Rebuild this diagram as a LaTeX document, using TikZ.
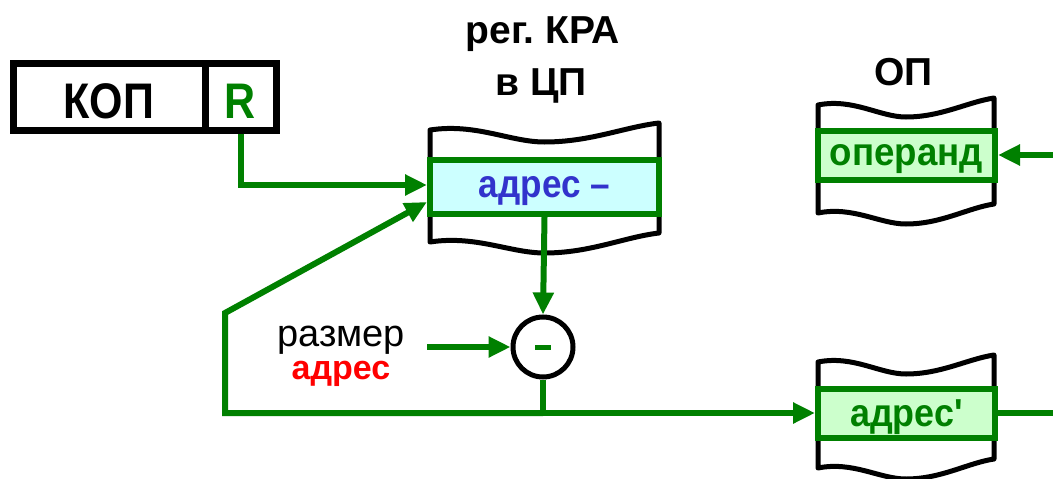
\documentclass[tikz,border=0pt]{standalone}
\usepackage{fontspec}
\setmainfont{Liberation Sans}
\usetikzlibrary{arrows.meta,positioning}
\definecolor{dkgreen}{RGB}{0,128,0}
\definecolor{cellcyan}{RGB}{204,255,255}
\definecolor{cellgreen}{RGB}{204,255,204}
\definecolor{txtblue}{RGB}{51,51,204}
\newcommand{\titlefont}{\fontsize{39pt}{39pt}\selectfont\bfseries}
\newcommand{\fieldfont}{\fontsize{50pt}{50pt}\selectfont\bfseries}
\newcommand{\cellfont}{\fontsize{39pt}{39pt}\selectfont\bfseries}
\tikzstyle{txt} = [inner sep=0pt, anchor=base]
\tikzstyle{field} = [rectangle, draw, line width=7pt, inner sep=0pt, minimum height=67pt, text height=43pt, text depth=0pt, font=\fieldfont]
\tikzstyle{cell} = [rectangle, draw=dkgreen, line width=6pt, inner sep=0pt, minimum width=177pt, minimum height=49pt, text depth=0pt, font=\cellfont]
\tikzstyle{wire} = [draw=dkgreen, line width=6pt]
\tikzstyle{feed} = [wire, -{Triangle[length=22pt,width=20pt]}]
% memory strip: x left, x right, y top, y bottom
\newcommand{\memstrip}[4]{%
  \draw[line width=5pt, fill=white, line join=round]
    (#1,#3) .. controls ({#1+0.2*(#2-#1)},{#3-7}) and ({#1+0.35*(#2-#1)},{#3+12}) .. ({#1+0.5*(#2-#1)},{#3+12})
    .. controls ({#1+0.7*(#2-#1)},{#3+12}) and ({#1+0.85*(#2-#1)},{#3-3}) .. (#2,{#3-7})
    -- (#2,{#4-9})
    .. controls ({#1+0.85*(#2-#1)},{#4-5}) and ({#1+0.7*(#2-#1)},{#4+11}) .. ({#1+0.5*(#2-#1)},{#4+11})
    .. controls ({#1+0.35*(#2-#1)},{#4+11}) and ({#1+0.2*(#2-#1)},{#4-7}) .. (#1,#4)
    -- cycle;}

\begin{document}
\begin{tikzpicture}[x=1pt, y=-1pt]
\useasboundingbox (0,0) rectangle (1053,479);

\node[txt, font=\titlefont] at (543,43) {рег.\ КРА};
\node[txt, font=\titlefont] at (541,95) {в ЦП};
\node[txt, font=\titlefont] at (903.5,85) {ОП};

\node[field, minimum width=192pt] (kop) at (109,96.5) {\scalebox{.86}[1]{КОП}};
\node[field, minimum width=71pt, text=dkgreen] (r) at (240.5,96.5) {\scalebox{.86}[1]{R}};

\memstrip{430}{659}{130}{242}
\node[cell, fill=cellcyan, text=txtblue, minimum width=229pt, minimum height=54pt] (reg) at (544.5,187) {\scalebox{.9}[1]{адрес –}};

\memstrip{818}{994}{105}{213}
\node[cell, fill=cellgreen, text=dkgreen] (opd) at (906.5,155) {\scalebox{.94}[1]{операнд}};

\memstrip{818}{994}{362}{468}
\node[cell, fill=cellgreen, text=dkgreen] (adr) at (906.5,413) {\scalebox{.92}[1]{адрес\textquotesingle}};

\node[circle, draw, line width=5pt, minimum size=60pt, inner sep=0pt] (sub) at (543,347) {\textcolor{dkgreen}{\rule{16pt}{5pt}}};
\node[txt, font=\fontsize{38pt}{38pt}\selectfont] (size) at (341,346) {размер};
\node[txt, font=\fontsize{34pt}{34pt}\selectfont\bfseries, text=red] (addr) at (341,379) {адрес};

\coordinate (sz) at (427,347);
\coordinate (j) at (543,413);
\coordinate (corner) at (225,413);
\coordinate (bend) at (225,313);
\coordinate (opin) at (1053,155);
\coordinate (adrout) at (1053,413);

\draw[feed] (r.south) |- ([yshift=2pt]reg.west);
\draw[feed] (reg.south) -- (sub.north);
\draw[feed] (sz) -- (sub.west);
\draw[wire] (sub.south) -- (j);
\draw[feed] (j) -- (corner) -- (bend) -- ([yshift=-15pt]reg.west);
\draw[feed] (j) -- (adr.west);
\draw[feed] (opin) -- (opd.east);
\draw[wire] (adr.east) -- (adrout);
\end{tikzpicture}
\end{document}
